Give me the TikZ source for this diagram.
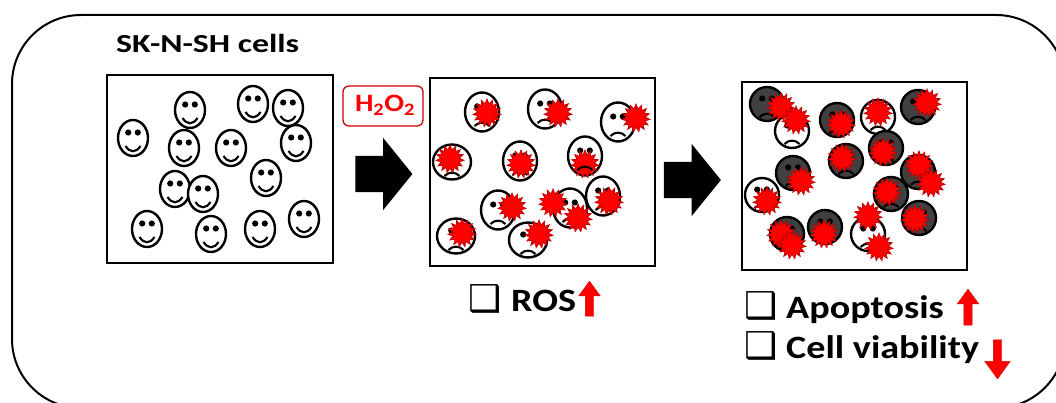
\documentclass[tikz,border=0pt]{standalone}
\usepackage{fontspec}
\setmainfont{Carlito}
\newfontfamily\titlefont[FakeStretch=1.3]{Carlito}
\newfontfamily\itemfont[FakeStretch=1.17]{Carlito}
\newfontfamily\symfont{DejaVu Sans}
\usetikzlibrary{shapes.geometric,shapes.arrows}

\tikzset{
    panel/.style={draw, line width=2pt},
    blob/.style={star, star points=15, star point ratio=1.5, minimum size=28pt, inner sep=0pt, fill=red, draw=red!75!black, line width=.7pt},
    blockarrow/.style={single arrow, fill=black, inner sep=0pt, text width=0pt, text height=36pt, text depth=0pt, minimum height=57pt, minimum width=72pt, single arrow head extend=18pt, single arrow tip angle=102},
    redarrow/.style={single arrow, fill=red, draw=red!85!black, line width=.4pt, inner sep=0pt, text width=0pt, text height=8pt, text depth=0pt, minimum width=21pt, single arrow head extend=6.5pt, single arrow tip angle=72},
    itemlabel/.style={font=\fontsize{32.6}{32.6}\selectfont\itemfont\bfseries, inner sep=0pt, anchor=base west},
    tick/.style={font=\fontsize{37}{37}\selectfont\symfont, inner sep=0pt, anchor=base west}
}

% one cell: x, y, half width, half height, fill, mouth end, mouth control
\newcommand{\cellface}[7]{
    \begin{scope}[shift={(#1,#2)}]
        \draw[line width=2.4pt, fill=#5] (0,0) ellipse ({#3} and {#4});
        \fill (-4.8,-5.5) circle (3.1) (4.8,-5.5) circle (3.1);
        \draw[line width=2.1pt] (-7.5,#6) .. controls (-3,#7) and (3,#7) .. (7.5,#6);
    \end{scope}
}

\begin{document}
\begin{tikzpicture}[x=1pt, y=-1pt]
    \useasboundingbox (0,0) rectangle (1056,403);

    \draw[line width=2pt, rounded corners=69pt] (12,15) rectangle (1065,408);

    \draw[panel] (107,75) rectangle (333,263);
    \draw[panel] (430,78) rectangle (655,266);
    \draw[panel] (742,82) rectangle (967,270);

    \node[inner sep=0pt, anchor=base west, font=\fontsize{26}{26}\selectfont\titlefont\bfseries] (title) at (116,53) {SK-N-SH cells};

    % healthy cells
    \foreach \x/\y in {190/110, 253/104, 288/108, 133/138, 184/148, 231/148, 296/143,
                       266/178, 175/189, 203/194, 147/229, 211/234, 260/229, 304/219} {
        \cellface{\x}{\y}{15}{18}{white}{8}{15}
    }

    % cells with ROS
    \foreach \x/\y in {482/112, 545/109, 618/122, 520/161, 585/156, 498/210,
                       570/208, 603/196} {
        \cellface{\x}{\y}{17}{19.5}{white}{14}{9.5}
    }
    \foreach \x/\y in {452/162, 456/236, 528/240} {
        \cellface{\x}{\y}{19}{17.5}{white}{14}{9.5}
    }
    \foreach \x/\y [count=\i] in {487/113, 558/113, 636/118, 450/159, 521/164, 585/164, 512/207,
                       553/203, 578/218, 609/201, 462/233, 539/234} {
        \node[blob] (ros\i) at (\x,\y) {};
    }
    \draw[line width=2.1pt] (577.5,170) .. controls (582,165.5) and (588,165.5) .. (592.5,170);

    % dying cells
    \foreach \x/\y in {792/131, 878/117, 762/195, 868/234} {
        \cellface{\x}{\y}{17}{17}{white}{13}{8.5}
    }
    \foreach \x/\y in {767/104, 837/120, 918/107, 886/148, 846/161, 793/173, 918/172,
                       891/194, 919/218, 787/234, 825/227} {
        \cellface{\x}{\y}{17}{17}{black!75}{13}{8.5}
    }
    \foreach \x/\y [count=\i] in {781/107, 796/120, 841/124, 878/112, 927/103, 883/152, 842/158,
                       801/181, 767/201, 919/165, 931/183, 887/192, 915/219,
                       781/234, 792/245, 824/234, 868/216, 879/247} {
        \node[blob] (dead\i) at (\x,\y) {};
    }

    \node[blockarrow] (step1) at (376.5,174) {};
    \node[blockarrow] (step2) at (685,180) {};

    \node[draw=red!80!black, line width=1.3pt, rounded corners=6pt, minimum width=80pt, minimum height=40pt, inner sep=0pt] (agent) at (383,106) {};
    \node[inner sep=0pt, anchor=base, text=red, font=\fontsize{25}{25}\selectfont\itemfont\bfseries] (agentname) at (385,112) {H\textsubscript{2}O\textsubscript{2}};

    \node[tick] (box1) at (468,311) {❑};
    \node[itemlabel] (ros) at (511,311) {ROS};
    \node[redarrow, minimum height=35pt, rotate=90] (rosup) at (589.5,301.5) {};

    \node[tick] (box2) at (744,318) {❑};
    \node[itemlabel] (apo) at (786,318) {Apoptosis};
    \node[redarrow, minimum height=36pt, rotate=90] (apoup) at (968,310) {};

    \node[tick] (box3) at (744,358) {❑};
    \node[itemlabel] (via) at (786,358) {Cell viability};
    \node[redarrow, minimum width=25pt, single arrow head extend=8.5pt, minimum height=39pt, rotate=-90] (viadown) at (997.5,356.5) {};
\end{tikzpicture}
\end{document}
